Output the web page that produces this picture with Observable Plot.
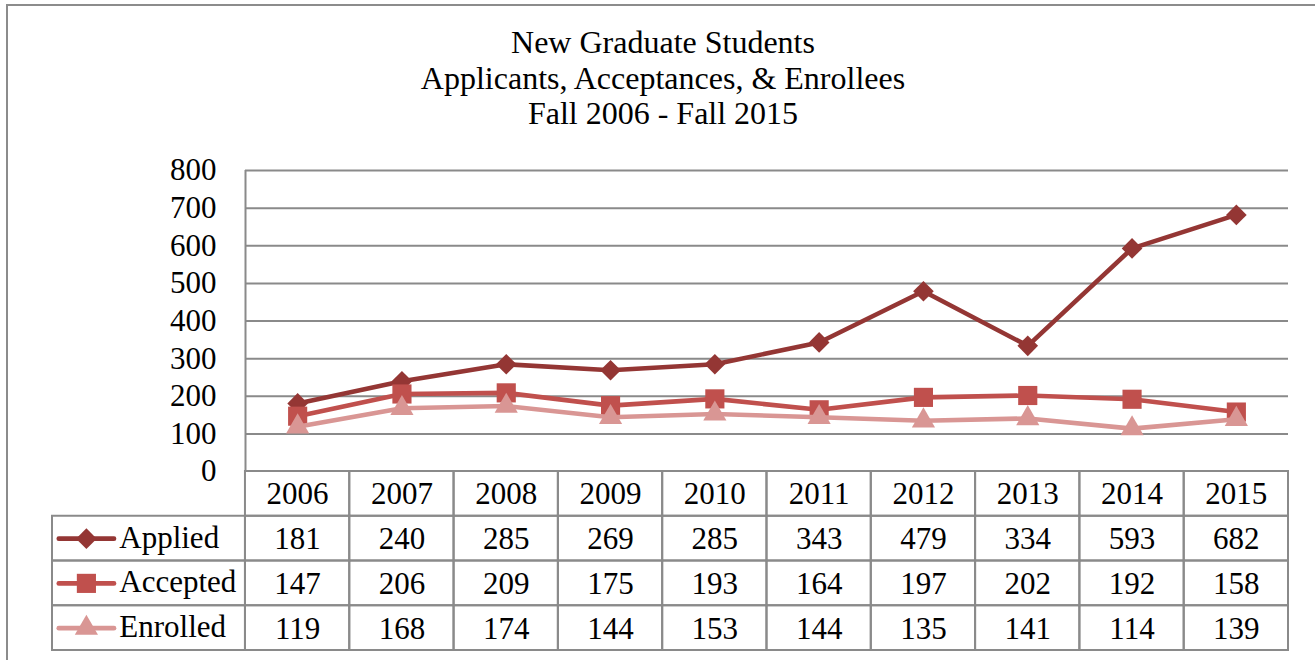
<!DOCTYPE html>
<html>
<head>
<meta charset="utf-8">
<script src="https://cdn.jsdelivr.net/npm/d3@7"></script>
<script src="https://cdn.jsdelivr.net/npm/@observablehq/plot@0.6"></script>
<style>
  html, body { margin: 0; padding: 0; background: #fff; }
  #wrap { position: relative; width: 1315px; height: 660px; overflow: hidden; background: #fff;
          font-family: "Liberation Serif", "Times New Roman", serif; }
  #frame { position: absolute; left: 6px; top: 3.5px; width: 1400px; height: 800px;
           border: 2px solid #8c8c8c; box-sizing: border-box; }
  #title { position: absolute; left: 0; top: 25.4px; width: 1326px; text-align: center;
           font-size: 32px; line-height: 35.5px; color: #000; }
  #chart, #table { position: absolute; left: 0; }
  #chart { top: 0; }
  #table { top: 466px; }
</style>
</head>
<body>
<div id="wrap">
  <div id="frame"></div>
  <div id="title">New Graduate Students<br>Applicants, Acceptances, &amp; Enrollees<br>Fall 2006 - Fall 2015</div>
  <div id="chart"></div>
  <div id="table"></div>
</div>
<script>
// ---- data ----
const years = [2006, 2007, 2008, 2009, 2010, 2011, 2012, 2013, 2014, 2015];
const seriesNames = ["Applied", "Accepted", "Enrolled"];
const applied  = [181, 240, 285, 269, 285, 343, 479, 334, 593, 682];
const accepted = [147, 206, 209, 175, 193, 164, 197, 202, 192, 158];
const enrolled = [119, 168, 174, 144, 153, 144, 135, 141, 114, 139];
const yTicks = [0, 100, 200, 300, 400, 500, 600, 700, 800];

// ---- styles ----
const colors  = ["#943634", "#C0504D", "#D99694"];
const symbols = ["diamond2", "square", "triangle"];
const radii   = [9.3, 10.8, 8.6];
const gridColor = "#8a8a8a";
const fontFamily = '"Liberation Serif", "Times New Roman", serif';

const valuesBySeries = [applied, accepted, enrolled];
const series = seriesNames.map((name, s) => ({
  name, color: colors[s], symbol: symbols[s], r: radii[s],
  rows: years.map((yr, i) => ({year: yr, value: valuesBySeries[s][i]}))
}));

const xDomain = [years[0] - 0.5, years[years.length - 1] + 0.5];

// ---- chart ----
const chart = Plot.plot({
  width: 1315, height: 490,
  marginLeft: 245, marginRight: 27, marginTop: 170, marginBottom: 19,
  style: {background: "transparent", fontFamily, fontSize: "31px", color: "#000"},
  x: {domain: xDomain, axis: null},
  y: {domain: [0, 800], axis: null},
  marks: [
    Plot.ruleY(yTicks.filter(t => t > 0), {stroke: gridColor, strokeWidth: 2}),
    Plot.ruleX([xDomain[0]], {stroke: gridColor, strokeWidth: 2}),
    Plot.axisY(yTicks, {tickSize: 0, tickPadding: 29, fontSize: 31, tickFormat: d => String(d), label: null, fill: "#000"}),
    ...series.flatMap(s => [
      Plot.line(s.rows, {x: "year", y: "value", stroke: s.color, strokeWidth: 4.6, strokeLinejoin: "round", strokeLinecap: "round"}),
      Plot.dot(s.rows, {x: "year", y: "value", symbol: s.symbol, r: s.r, fill: s.color, stroke: "none"})
    ])
  ]
});
document.getElementById("chart").appendChild(chart);

// ---- data table ----
const legendCols = 1.85;                    // width of the legend column, in year-columns
const legendStart = xDomain[0] - legendCols;
const swatch = [0.06, 0.59];                // swatch line span inside legend column
const swatchMid = 0.325;
const labelStart = 0.64;

const headerCells = years.map(yr => ({x1: yr - 0.5, x2: yr + 0.5, y1: 0, y2: 1}));
const bodyCells = seriesNames.flatMap((n, s) =>
  [{x1: legendStart, x2: xDomain[0], y1: s + 1, y2: s + 2},
   ...years.map(yr => ({x1: yr - 0.5, x2: yr + 0.5, y1: s + 1, y2: s + 2}))]);

const tableText = series.flatMap((s, si) => s.rows.map(r => ({year: r.year, row: si + 1.5, text: String(r.value)})));

const table = Plot.plot({
  width: 1315, height: 194,
  style: {background: "transparent", fontFamily, fontSize: "31px", color: "#000"},
  x: {domain: [legendStart, xDomain[1]], range: [52, 1288], axis: null},
  y: {domain: [0, 4], range: [5, 184], axis: null},
  marks: [
    Plot.rect([...headerCells, ...bodyCells], {x1: "x1", x2: "x2", y1: "y1", y2: "y2", fill: "none", stroke: gridColor, strokeWidth: 2}),
    Plot.text(years, {x: d => d, y: 0.5, text: d => String(d), fontSize: 31, fill: "#000", dy: 0.5}),
    Plot.text(tableText, {x: "year", y: "row", text: "text", fontSize: 31, fill: "#000", dy: 0.5}),
    ...series.flatMap((s, si) => [
      Plot.link([s], {x1: legendStart + swatch[0], x2: legendStart + swatch[1], y1: si + 1.5, y2: si + 1.5, stroke: s.color, strokeWidth: 4.6, strokeLinecap: "round"}),
      Plot.dot([s], {x: legendStart + swatchMid, y: si + 1.5, symbol: s.symbol, r: s.r, fill: s.color, stroke: "none"}),
      Plot.text([s], {x: legendStart + labelStart, y: si + 1.5, text: "name", textAnchor: "start", fontSize: 31, fill: "#000", dy: -1})
    ])
  ]
});
document.getElementById("table").appendChild(table);
</script>
</body>
</html>
